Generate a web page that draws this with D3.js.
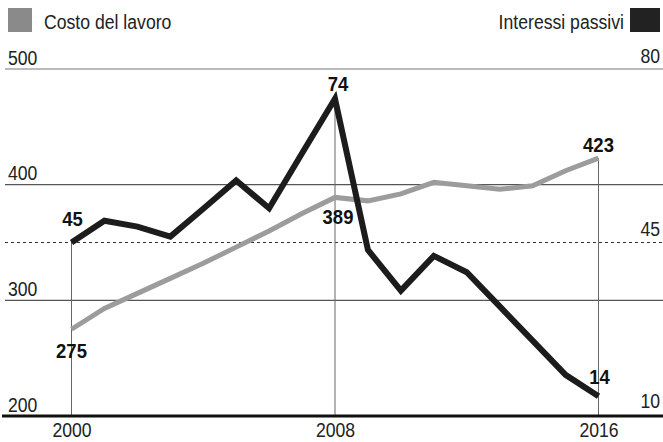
<!DOCTYPE html>
<html>
<head>
<meta charset="utf-8">
<script src="https://cdn.jsdelivr.net/npm/d3@7"></script>
<style>
  html, body { margin: 0; padding: 0; background: #fff; }
  svg { display: block; }
  text { font-family: "Liberation Sans", Arial, sans-serif; }
</style>
</head>
<body>
<svg id="chart" width="663" height="442"></svg>
<script>
// ---- data ----
const years = [2000, 2001, 2002, 2003, 2004, 2005, 2006, 2007, 2008, 2009, 2010, 2011, 2012, 2013, 2014, 2015, 2016];
const costoLavoro = [275, 293, 306, 319, 332, 346, 360, 375, 389, 386, 392, 402, 399, 396, 399, 412, 423];
const interessiPassivi = [45, 49.4, 48.2, 46.2, 51.8, 57.5, 51.9, 63, 74, 43.5, 35.3, 42.3, 39, 32.1, 25.2, 18.3, 14];
const leftTicks = [200, 300, 400, 500];
const rightTicks = [10, 45, 80];
const xTicks = [2000, 2008, 2016];
const seriesNames = ["Costo del lavoro", "Interessi passivi"];
const costoLabelYears = [2000, 2008, 2016];
const interessiLabelYears = [2000, 2008, 2016];

// ---- layout ----
const W = 663, H = 442;
const FONT = "'Liberation Sans', Arial, sans-serif";
const SX = 0.84;      // horizontal condensing of the regular text
const SXB = 0.88;     // horizontal condensing of the bold value labels
const svg = d3.select("#chart");
const x = d3.scaleLinear().domain([2000, 2016]).range([71.5, 598.5]);
const yL = d3.scaleLinear().domain([200, 500]).range([416, 69]);
const yR = d3.scaleLinear().domain([10, 80]).range([416, 69]);

const grayCol = "#9c9c9c";
const blackCol = "#1c1c1c";

// gridlines (left axis)
svg.append("g").selectAll("line")
  .data(leftTicks.filter(d => d !== 200))
  .join("line")
  .attr("x1", 5).attr("x2", W)
  .attr("y1", d => yL(d)).attr("y2", d => yL(d))
  .attr("stroke", d => d === 500 ? "#777" : "#555").attr("stroke-width", 1.1);

// dashed gridline (right axis middle)
svg.append("g").selectAll("line")
  .data(rightTicks.filter(d => d !== 10 && d !== 80))
  .join("line")
  .attr("x1", 5).attr("x2", W)
  .attr("y1", d => yR(d)).attr("y2", d => yR(d))
  .attr("stroke", "#333").attr("stroke-width", 1.1)
  .attr("stroke-dasharray", "3,3");

// vertical drop lines at labelled years
const topAt = yr => {
  const i = years.indexOf(yr);
  return Math.min(yR(interessiPassivi[i]), yL(costoLavoro[i]));
};
svg.append("g").selectAll("line")
  .data(xTicks)
  .join("line")
  .attr("x1", d => x(d)).attr("x2", d => x(d))
  .attr("y1", d => topAt(d)).attr("y2", yL(200))
  .attr("stroke", "#666").attr("stroke-width", 1);

// left axis labels
const gLeft = svg.append("g").attr("transform", "translate(8,0)")
  .call(d3.axisRight(yL).tickValues(leftTicks).tickSize(0).tickFormat(d3.format("d")));
gLeft.select(".domain").remove();
gLeft.selectAll("text")
  .attr("x", 0).attr("dy", "-5")
  .attr("text-anchor", "start")
  .attr("font-size", 21).attr("fill", "#222")
  .attr("transform", `scale(${SX},1)`)
  .style("font-family", FONT);

// right axis labels
const gRight = svg.append("g").attr("transform", "translate(660,0)")
  .call(d3.axisLeft(yR).tickValues(rightTicks).tickSize(0).tickFormat(d3.format("d")));
gRight.select(".domain").remove();
gRight.selectAll("text")
  .attr("x", 0).attr("dy", d => d === 10 ? "-9" : "-7")
  .attr("text-anchor", "end")
  .attr("font-size", 21).attr("fill", "#222")
  .attr("transform", `scale(${SX},1)`)
  .style("font-family", FONT);

// bottom axis
const gX = svg.append("g").attr("transform", `translate(0,${yL(200)})`)
  .call(d3.axisBottom(x).tickValues(xTicks).tickSize(0).tickFormat(d3.format("d")));
gX.select(".domain").remove();
gX.selectAll("text")
  .attr("y", 6).attr("font-size", 21).attr("fill", "#222")
  .attr("transform", `scale(${SX},1)`)
  .style("font-family", FONT);
svg.append("line")
  .attr("x1", 2).attr("x2", W)
  .attr("y1", yL(200)).attr("y2", yL(200))
  .attr("stroke", "#111").attr("stroke-width", 3);

// lines
const lineL = d3.line().x((d, i) => x(years[i])).y(d => yL(d));
const lineR = d3.line().x((d, i) => x(years[i])).y(d => yR(d));

svg.append("path").datum(costoLavoro)
  .attr("d", lineL)
  .attr("fill", "none").attr("stroke", grayCol)
  .attr("stroke-width", 5).attr("stroke-linejoin", "miter");

svg.append("path").datum(interessiPassivi)
  .attr("d", lineR)
  .attr("fill", "none").attr("stroke", blackCol)
  .attr("stroke-width", 6).attr("stroke-linejoin", "miter");

// value labels
function valueLabels(cls, yrs, values, scale, offsets, dxs) {
  svg.append("g").selectAll("g." + cls)
    .data(yrs)
    .join("g").attr("class", cls)
    .attr("transform", d => `translate(${x(d) + dxs[d]},${scale(values[years.indexOf(d)]) + offsets[d]}) scale(${SXB},1)`)
    .append("text")
    .attr("text-anchor", "middle")
    .attr("font-weight", "bold").attr("font-size", 21).attr("fill", "#111")
    .text(d => values[years.indexOf(d)]);
}
valueLabels("c", costoLabelYears, costoLavoro, yL, { 2000: 29, 2008: 27, 2016: -6 }, { 2000: 0, 2008: 3, 2016: 0 });
valueLabels("i", interessiLabelYears, interessiPassivi, yR, { 2000: -17, 2008: -8, 2016: -12 }, { 2000: 1, 2008: 3, 2016: 1 });

// legend
svg.append("rect").attr("x", 8).attr("y", 8).attr("width", 24).attr("height", 24)
  .attr("fill", "#8a8a8a");
svg.append("g").attr("transform", `translate(44,29) scale(${SX},1)`)
  .append("text").attr("font-size", 21).attr("fill", "#222")
  .text(seriesNames[0]);

svg.append("rect").attr("x", 630).attr("y", 8).attr("width", 30).attr("height", 24)
  .attr("fill", "#222");
svg.append("g").attr("transform", `translate(624,29) scale(${SX},1)`)
  .append("text").attr("font-size", 21).attr("fill", "#222").attr("text-anchor", "end")
  .text(seriesNames[1]);
</script>
</body>
</html>
